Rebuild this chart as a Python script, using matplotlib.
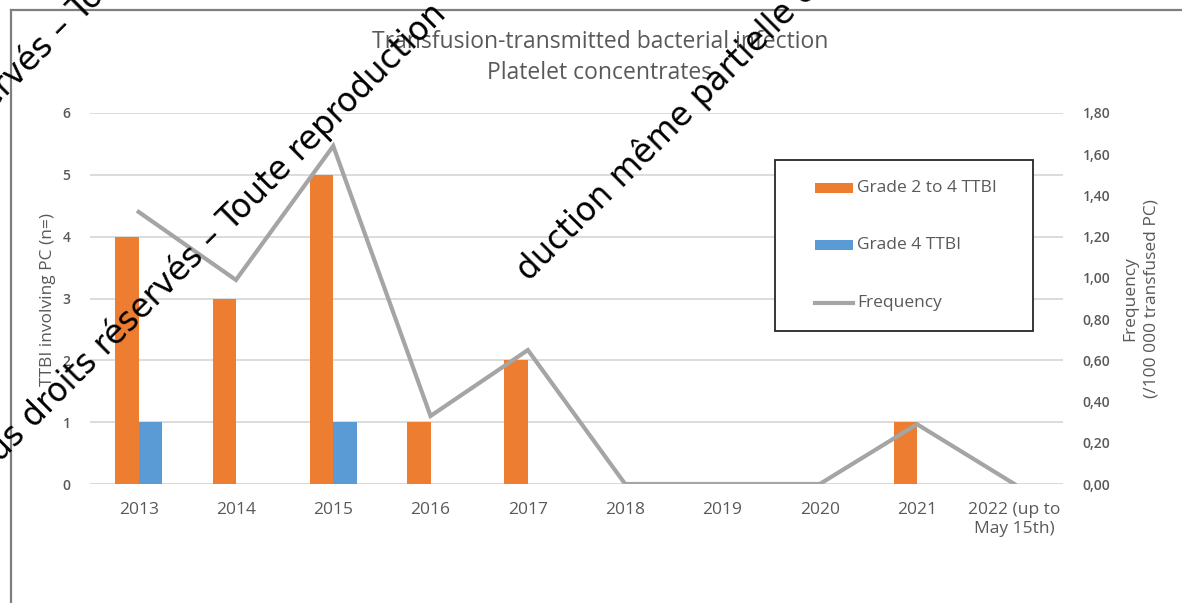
import matplotlib
matplotlib.use("Agg")
import matplotlib.pyplot as plt
from matplotlib.lines import Line2D
from matplotlib.patches import Rectangle

plt.rcParams["font.family"] = ["Open Sans", "DejaVu Sans"]

# data
years = ["2013", "2014", "2015", "2016", "2017", "2018", "2019", "2020", "2021",
         "2022 (up to\nMay 15th)"]
grade_2_to_4 = [4, 3, 5, 1, 2, 0, 0, 0, 1, 0]
grade_4 = [1, 0, 1, 0, 0, 0, 0, 0, 0, 0]
frequency = [1.32, 0.99, 1.64, 0.33, 0.65, 0.0, 0.0, 0.0, 0.29, 0.0]

ORANGE = "#ED7D31"
BLUE = "#5B9BD5"
GRAY = "#A5A5A5"
TEXT = "#595959"
GRID = "#D9D9D9"

W, H = 1182, 603
fig = plt.figure(figsize=(W / 100, H / 100), dpi=100)


def px(x, y):
    # pixel position (origin top-left) -> figure fraction
    return x / W, 1 - y / H


# outer frame of the chart object
fig.add_artist(Line2D([11 / W, 11 / W], [0, 1 - 10 / H], color="#7F7F7F", lw=1.6,
                      transform=fig.transFigure))
fig.add_artist(Line2D([11 / W, 1], [1 - 10 / H, 1 - 10 / H], color="#7F7F7F", lw=1.6,
                      transform=fig.transFigure))

left, right, top, bottom = 90, 1063, 113, 484
ax = fig.add_axes([left / W, 1 - bottom / H, (right - left) / W, (bottom - top) / H])
ax2 = ax.twinx()

x = list(range(len(years)))
bw = 0.24
ax.bar([i - bw / 2 for i in x], grade_2_to_4, width=bw, color=ORANGE, zorder=3)
ax.bar([i + bw / 2 for i in x], grade_4, width=bw, color=BLUE, zorder=3)
ax2.plot(x, frequency, color=GRAY, lw=3, solid_joinstyle="miter", zorder=4)

ax.set_xlim(-0.5, len(years) - 0.5)
ax.set_ylim(0, 6)
ax2.set_ylim(0, 1.8)
ax.set_yticks(range(0, 7))
ax2.set_yticks([i * 0.2 for i in range(10)])
ax2.set_yticklabels([f"{i * 0.2:.2f}".replace(".", ",") for i in range(10)])

ax.grid(axis="y", color=GRID, lw=1.3, zorder=0)
ax.set_axisbelow(True)
for a in (ax, ax2):
    for side in ("top", "left", "right", "bottom"):
        a.spines[side].set_visible(False)
ax.axhline(0, color=GRID, lw=2, zorder=2)

ax.set_xticks(x)
ax.set_xticklabels(years, fontsize=12.5, color=TEXT, linespacing=1.25)
ax.tick_params(axis="x", length=0, pad=13)
ax.tick_params(axis="y", length=0, pad=14, labelsize=10, labelcolor=TEXT)
ax2.tick_params(axis="y", length=0, pad=14, labelsize=10, labelcolor=TEXT)
for lbl in ax.get_yticklabels() + ax2.get_yticklabels():
    lbl.set_fontweight("semibold")

fig.text(*px(48, 300), "TTBI involving PC (n=)", rotation=90, ha="center", va="center",
         fontsize=12.5, color=TEXT)
fig.text(*px(1141, 299), "Frequency\n(/100 000 transfused PC)", rotation=90, ha="center",
         va="center", fontsize=12.5, color=TEXT, linespacing=1.45)

fig.text(*px(600, 42), "Transfusion-transmitted bacterial infection", ha="center",
         va="center", fontsize=16.5, color=TEXT)
fig.text(*px(600, 73), "Platelet concentrates", ha="center", va="center",
         fontsize=16.5, color=TEXT)

# legend box
x0, y0 = px(775, 331)
x1, y1 = px(1033, 160)
fig.add_artist(Rectangle((x0, y0), x1 - x0, y1 - y0, transform=fig.transFigure,
                         facecolor="white", edgecolor="#262626", lw=1.3, zorder=5))
entries = [("Grade 2 to 4 TTBI", ORANGE, "patch", 188),
           ("Grade 4 TTBI", BLUE, "patch", 245),
           ("Frequency", GRAY, "line", 303)]
for label, color, kind, yc in entries:
    if kind == "patch":
        a, b = px(815, yc + 5)
        c, d = px(853, yc - 5)
        fig.add_artist(Rectangle((a, b), c - a, d - b, transform=fig.transFigure,
                                 facecolor=color, edgecolor="none", zorder=6))
    else:
        fig.add_artist(Line2D([815 / W, 853 / W], [1 - yc / H, 1 - yc / H], color=color,
                              lw=3, transform=fig.transFigure, zorder=6))
    fig.text(*px(857, yc), label, ha="left", va="center", fontsize=12.5, color=TEXT,
             zorder=7)

# watermark
wm = dict(rotation=45, rotation_mode="anchor", fontsize=23.5, color="black",
          family="DejaVu Sans", zorder=10)
fig.text(*px(448, 16), "Tous droits réservés – Toute reproduction", ha="right",
         va="baseline", **wm)
fig.text(*px(298, -194), "Tous droits réservés – Toute reproduction", ha="right",
         va="baseline", **wm)
fig.text(*px(529, 282), "duction même partielle est interdite", ha="left",
         va="baseline", **wm)

fig.savefig("out.png", dpi=100)
